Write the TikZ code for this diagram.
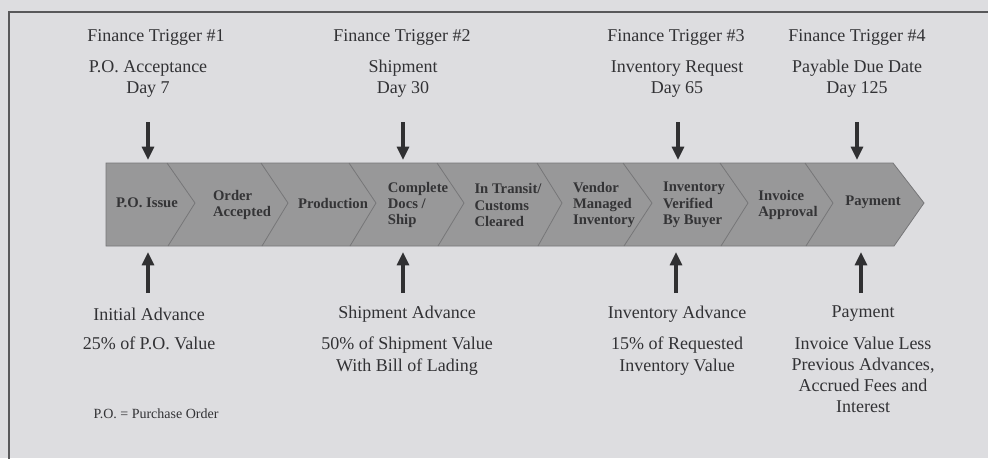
\documentclass[tikz,border=0pt]{standalone}
\usepackage{fontspec}
\setmainfont{Liberation Serif}
\usetikzlibrary{arrows.meta}
\usepackage{xcolor}

\definecolor{paper}{RGB}{221,221,224}
\definecolor{frameline}{RGB}{88,88,90}
\definecolor{bandfill}{RGB}{152,152,153}
\definecolor{bandline}{RGB}{118,118,120}
\definecolor{steptext}{RGB}{52,52,54}
\definecolor{labeltext}{RGB}{50,50,53}
\definecolor{arrowgray}{RGB}{48,48,50}

\tikzset{
  steplabel/.style={text=steptext, align=left, inner sep=0pt,
    font=\fontsize{11}{12.3}\selectfont\bfseries},
  trigtitle/.style={text=labeltext, inner sep=0pt,
    font=\fontsize{13.5}{15}\selectfont},
  triglabel/.style={text=labeltext, align=center, inner sep=0pt, anchor=north,
    font=\fontsize{13.5}{15.8}\selectfont},
  flowarrow/.style={-{Triangle[length=10pt,width=9pt]}, line width=2.3pt, draw=arrowgray}
}

\begin{document}
\begin{tikzpicture}[x=0.75pt,y=-0.75pt]
    %\draw[help lines,step=50] (0,0) grid (988,458); % Only for Development
    \useasboundingbox (0,0) rectangle (988,458);
    \fill[paper] (0,0) rectangle (988,458);
    \clip (0,0) rectangle (988,458);
    \draw[frameline, line width=1.6pt] (9,470) -- (9,12) -- (1000,12);

    % the process band
    \draw[fill=bandfill, draw=bandline, line width=0.6pt]
      (106,163) -- (893,163) -- (924,203) -- (894,246) -- (106,246) -- cycle;
    \draw[bandline, line width=0.6pt]
      (167,163) -- (195,203) -- (168,246)
      (261,163) -- (288,203) -- (262,246)
      (349,163) -- (376,203) -- (350,246)
      (437,163) -- (464,203) -- (438,246)
      (537,163) -- (562,203) -- (538,246)
      (623,163) -- (652,203) -- (624,246)
      (720,163) -- (748,203) -- (721,246)
      (805,163) -- (833,203) -- (806,246);
    \coordinate (bandtop) at (0,160);
    \coordinate (bandbot) at (0,252);

    \node[steplabel] (issue) at (147,203) {P.O. Issue};
    \node[steplabel] (accepted) at (242,205) {Order\\Accepted};
    \node[steplabel] (production) at (333,203) {Production};
    \node[steplabel] (docs) at (418,205) {Complete\\Docs /\\Ship};
    \node[steplabel] (transit) at (508,205) {In Transit/\\Customs\\Cleared};
    \node[steplabel] (vmi) at (604,205) {Vendor\\Managed\\Inventory};
    \node[steplabel] (verified) at (694,205) {Inventory\\Verified\\By Buyer};
    \node[steplabel] (approval) at (788,205) {Invoice\\Approval};
    \node[steplabel] (payment) at (873,202) {Payment};

    % finance triggers above the band
    \node[trigtitle] (trig1t) at (156,37) {Finance Trigger \#1};
    \node[triglabel] (trig1l) at (148,60) {P.O. Acceptance\\Day 7};
    \node[trigtitle] (trig2t) at (402,37) {Finance Trigger \#2};
    \node[triglabel] (trig2l) at (403,60) {Shipment\\Day 30};
    \node[trigtitle] (trig3t) at (676,37) {Finance Trigger \#3};
    \node[triglabel] (trig3l) at (677,60) {Inventory Request\\Day 65};
    \node[trigtitle] (trig4t) at (857,37) {Finance Trigger \#4};
    \node[triglabel] (trig4l) at (857,60) {Payable Due Date\\Day 125};

    \coordinate (trig1) at (148,122);
    \coordinate (trig2) at (403,122);
    \coordinate (trig3) at (678,122);
    \coordinate (trig4) at (857,122);
    \draw[flowarrow] (trig1) -- (trig1 |- bandtop);
    \draw[flowarrow] (trig2) -- (trig2 |- bandtop);
    \draw[flowarrow] (trig3) -- (trig3 |- bandtop);
    \draw[flowarrow] (trig4) -- (trig4 |- bandtop);

    % advances below the band
    \coordinate (adv1) at (148,293);
    \coordinate (adv2) at (403,293);
    \coordinate (adv3) at (676,293);
    \coordinate (adv4) at (861,293);
    \draw[flowarrow] (adv1) -- (adv1 |- bandbot);
    \draw[flowarrow] (adv2) -- (adv2 |- bandbot);
    \draw[flowarrow] (adv3) -- (adv3 |- bandbot);
    \draw[flowarrow] (adv4) -- (adv4 |- bandbot);

    \node[trigtitle] (adv1t) at (149,314) {Initial Advance};
    \node[triglabel] (adv1l) at (149,337) {25\% of P.O. Value};
    \node[trigtitle] (adv2t) at (407,314) {Shipment Advance};
    \node[triglabel] (adv2l) at (407,337) {50\% of Shipment Value\\With Bill of Lading};
    \node[trigtitle] (adv3t) at (677,314) {Inventory Advance};
    \node[triglabel] (adv3l) at (677,337) {15\% of Requested\\Inventory Value};
    \node[trigtitle] (adv4t) at (863,314) {Payment};
    \node[triglabel] (adv4l) at (863,337) {Invoice Value Less\\Previous Advances,\\Accrued Fees and\\Interest};

    \node[text=labeltext, inner sep=0pt, font=\fontsize{10.5}{12}\selectfont]
      (note) at (156,414) {P.O. = Purchase Order};
\end{tikzpicture}
\end{document}
